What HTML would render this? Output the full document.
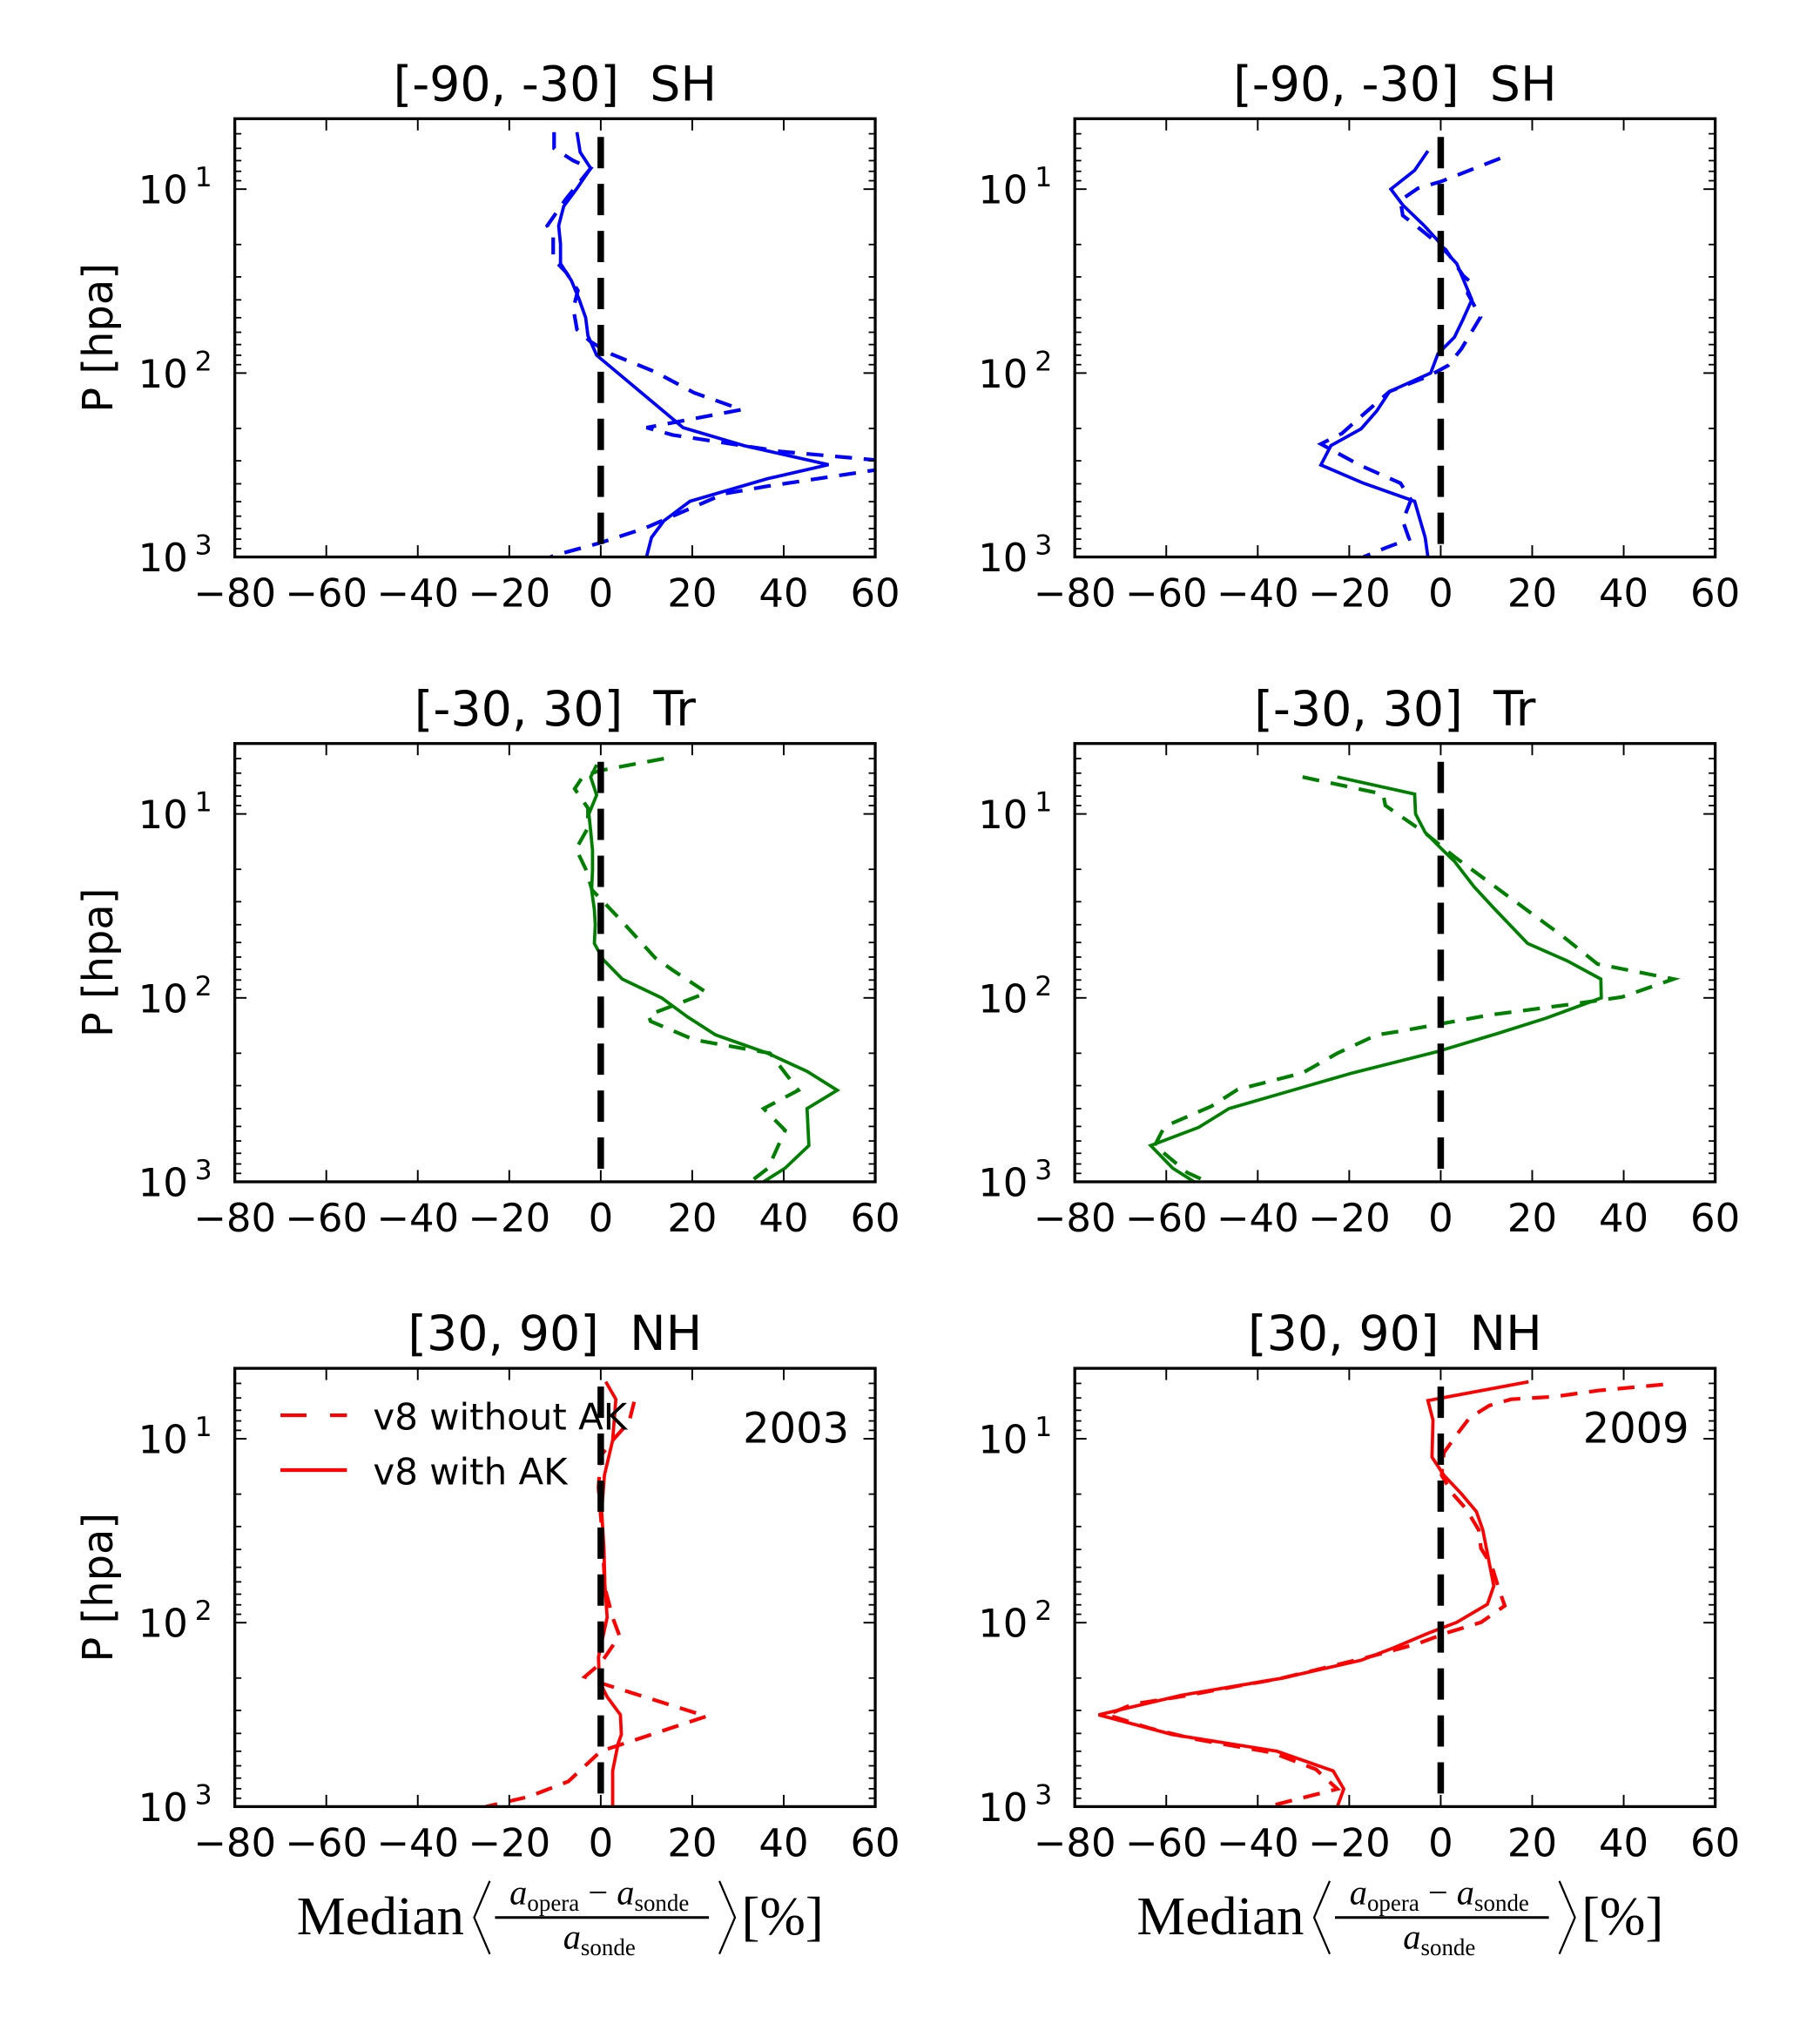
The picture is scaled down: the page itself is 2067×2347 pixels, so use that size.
<!DOCTYPE html>
<html><head><meta charset="utf-8"><style>
html,body{margin:0;padding:0;background:#fff;}
svg{display:block;}
</style></head><body>
<svg id="fig" xmlns="http://www.w3.org/2000/svg" width="2067" height="2347" viewBox="0 0 1380 1567" font-family="'DejaVu Sans', 'Liberation Sans', sans-serif">
<rect width="1380" height="1567" fill="#fff"/>
</svg>
<script>
// ---- data (x = median relative difference %, p = pressure hPa) ----
const xTicks = [-80,-60,-40,-20,0,20,40,60];
const xTickLabels = ["\u221280","\u221260","\u221240","\u221220","0","20","40","60"];
const yTicks = [10,100,1000];
const yTickExp = ["1","2","3"];

const shSolidP2003 = [4.9,6.3,7.7,9.9,12.4,15.8,19.9,25.4,31.5,39.9,50,62.7,67.6,80,198,248,315,375,498,636,783,1000];
const shSolidX2003 = [-5.2,-4.5,-2.2,-5.2,-8.1,-9.2,-8.8,-8.8,-6.4,-4.7,-3.3,-2.8,-2.2,-0.9,18,31.3,49.8,36.5,19.5,13.8,11.1,10];
const shDashP2003 = [4.9,6,7,7.7,11.3,15.8,17.8,23.9,28.3,35.6,44.5,58,67.6,79,98.6,128,158,198,217,267,300,331,412,453,700,843,963,1000];
const shDashX2003 = [-10.2,-10.2,-6,-2.2,-7.6,-11.7,-10.4,-10.4,-7.6,-5,-6,-5.2,-2.2,2.4,11.9,20.4,30.8,10,15.7,39.4,62,62,36.5,27,9.5,-0.5,-9,-11];

const shSolidP2009 = [6.2,7.9,10,12.2,15.8,19.1,21.4,25.4,39.9,50.9,63.8,78.5,100,126,161,201,248,316,397,498,783,1000];
const shSolidX2009 = [-2.8,-5.7,-10.9,-8.3,-3.6,-0.6,0.7,3.5,6.8,4.9,3.0,-0.6,-2.2,-11.2,-14,-17.4,-24,-26.2,-16.9,-5.7,-3.4,-2.8];
const shDashP2009 = [6.8,9.1,9.9,11.5,13.9,16.4,21.4,29.5,31.8,37,49.6,74,91,104,126,180,213,243,316,397,489,636,798,893,1000];
const shDashX2009 = [13,0,-5,-8.8,-8.3,-4.6,1.1,4.9,6.4,5.9,8.7,4.5,1.6,-2.7,-11.2,-18.3,-21.6,-26.2,-17.8,-8.8,-6.5,-8.3,-6.9,-12.1,-16.9];

const trSolidP2003 = [5.4,6.3,7.9,10,12.4,15.8,20.2,25.9,33.1,40,50.6,61.8,79,100,127,159,200,251,318,400,635,843,1000];
const trSolidX2003 = [-0.9,-2.2,-0.9,-2.6,-2.2,-1.8,-1.8,-2.0,-1.4,-1.2,-1.4,0.5,4.7,13.3,19,25.1,36.5,45.1,51.7,45.1,45.5,40.3,35.6];
const trDashP2003 = [5.0,5.8,6.2,7.3,9.3,11.9,15.5,19.9,25.9,38.5,60.6,70.6,93.8,124,134,169,200,318,400,525,843,1000];
const trDashX2003 = [13.8,0,-3.8,-5.7,-2.8,-2.8,-5.4,-3.3,-1.9,4.7,11.9,15.7,23.2,10.4,10.9,20.4,37,43.2,35.6,40.3,36.6,32.7];

const trSolidP2009 = [6.3,7.8,10,12.6,15.5,18.1,24.9,32.5,50.6,63,79,100,129,156,196,256,321,400,506,635,843,1000];
const trSolidX2009 = [-22.6,-5.7,-5.5,-3.4,0.2,3.0,7.3,11.6,19,27.7,35,35.1,23,12.5,-0.8,-19.3,-33,-46.3,-52.9,-63.4,-58.6,-53.9];
const trDashP2009 = [6.3,7.8,9,12.6,17.1,33.1,46.5,65.5,79,99,107,124,151,159,200,256,315,388,497,536,635,892,1000];
const trDashX2009 = [-30.2,-12.6,-12.1,-3.6,3.0,18.7,26.8,34.3,50.9,39.6,30.1,10.6,-8.3,-14,-22.6,-30.2,-44.4,-50.1,-60.1,-61,-62.5,-55.4,-51];

const nhSolidP2003 = [4.9,6.1,10.2,15.8,24.9,39.4,62,93.7,154,209,253,317,406,454,640,1000];
const nhSolidX2003 = [1.1,3.3,2.6,0.8,0.2,0.7,0.9,1.4,-0.5,-0.3,1.4,4.3,4.5,3.8,2.6,2.6];
const nhDashP2003 = [6.3,8.1,10.2,12.4,18.4,32.5,64.4,93.7,118,166,197,213,323,500,730,883,1000];
const nhDashX2003 = [7.3,6.2,2.6,0,-0.5,0.3,0.9,2.6,4.1,0,-3.5,0,23.1,0,-7.1,-15.7,-25.1];

const nhSolidP2009 = [4.9,6.2,7.9,12.6,15.8,19.9,24.9,31.3,63.2,79.4,99.6,114,137,160,201,248,317,406,500,640,802,1000];
const nhSolidX2009 = [19.2,-2.8,-1.7,-1.9,0.7,4.5,7.8,9.2,11.6,10.2,3.5,-2.7,-10.3,-17.4,-35,-56.7,-74.8,-58.6,-35.8,-23.5,-21.2,-22.6];
const nhDashP2009 = [5.07,5.47,5.9,6.1,6.6,7.7,9.5,11.9,15.8,19.9,24,31.3,39.4,49.4,64.4,80.9,99.6,114,130,154,176,201,221,252,277,317,376,429,509,627,802,1000];
const nhDashX2009 = [48.6,34.4,24.9,15.4,10.6,6.3,3.5,0.7,0.2,2.6,5.5,8.3,8.8,11.2,12.6,14.0,8.8,1.1,-5,-15.9,-25.4,-35,-44.4,-56.7,-67.2,-72.9,-63.4,-53.9,-36.8,-27.3,-22.6,-37.8];

// ---- layout ----
const NS = "http://www.w3.org/2000/svg";
const svg = document.getElementById('fig');
const X0 = [180, 824], W = 491;
const Y0 = [91, 570, 1049], H = 336;
const LOGTOP = 3 - H/141;
function mk(tag, attrs, parent){ const e=document.createElementNS(NS,tag); for(const k in attrs) e.setAttribute(k,attrs[k]); (parent||svg).appendChild(e); return e; }

const panels = [
 {r:0,c:0,title:"[-90, -30]\u00a0\u00a0SH",color:"#0000ff",sp:shSolidP2003,sx:shSolidX2003,dp:shDashP2003,dx:shDashX2003,name:"sh-2003"},
 {r:0,c:1,title:"[-90, -30]\u00a0\u00a0SH",color:"#0000ff",sp:shSolidP2009,sx:shSolidX2009,dp:shDashP2009,dx:shDashX2009,name:"sh-2009"},
 {r:1,c:0,title:"[-30, 30]\u00a0\u00a0Tr",color:"#008000",sp:trSolidP2003,sx:trSolidX2003,dp:trDashP2003,dx:trDashX2003,name:"tr-2003"},
 {r:1,c:1,title:"[-30, 30]\u00a0\u00a0Tr",color:"#008000",sp:trSolidP2009,sx:trSolidX2009,dp:trDashP2009,dx:trDashX2009,name:"tr-2009"},
 {r:2,c:0,title:"[30, 90]\u00a0\u00a0NH",color:"#ff0000",sp:nhSolidP2003,sx:nhSolidX2003,dp:nhDashP2003,dx:nhDashX2003,name:"nh-2003"},
 {r:2,c:1,title:"[30, 90]\u00a0\u00a0NH",color:"#ff0000",sp:nhSolidP2009,sx:nhSolidX2009,dp:nhDashP2009,dx:nhDashX2009,name:"nh-2009"}
];

panels.forEach((pn,i)=>{
  const x0=X0[pn.c], y0=Y0[pn.r];
  const xs = v => x0 + (v+80)/140*W;
  const ys = p => y0 + (Math.log10(p)-LOGTOP)/(3-LOGTOP)*H;
  const g = mk('g',{});
  
  
  const cp = mk('clipPath',{id:'cp'+i}, g);
  mk('rect',{x:x0,y:y0,width:W,height:H},cp);
  const t = mk('text',{x:x0+W/2,y:y0-14,'text-anchor':'middle','font-size':37},g);
  t.textContent = pn.title;
  
  
  // series
  const dg = mk('g',{'clip-path':'url(#cp'+i+')'},g);
  const dash = mk('polyline',{points:pn.dp.map((p,k)=>xs(pn.dx[k])+','+ys(p)).join(' '),fill:'none',stroke:pn.color,'stroke-width':2.8,'stroke-dasharray':'13,9'},dg);
  
  
  const sol = mk('polyline',{points:pn.sp.map((p,k)=>xs(pn.sx[k])+','+ys(p)).join(' '),fill:'none',stroke:pn.color,'stroke-width':2.5},dg);
  
  
  const zl = mk('line',{x1:xs(0),x2:xs(0),y1:y0+14,y2:y0+H,stroke:'#000','stroke-width':5,'stroke-dasharray':'24,12'},dg);
  
  
  // ticks
  xTicks.forEach((v,k)=>{
    const x=xs(v);
    mk('line',{x1:x,x2:x,y1:y0+H,y2:y0+H-9,stroke:'#000','stroke-width':1.3},g);
    mk('line',{x1:x,x2:x,y1:y0,y2:y0+9,stroke:'#000','stroke-width':1.3},g);
    const tl = mk('text',{x:x,y:y0+H+38,'text-anchor':'middle','font-size':30},g);
    tl.textContent = xTickLabels[k];
    
    
  });
  yTicks.forEach((p,k)=>{
    const y=ys(p);
    mk('line',{x1:x0,x2:x0+9,y1:y,y2:y,stroke:'#000','stroke-width':1.3},g);
    mk('line',{x1:x0+W,x2:x0+W-9,y1:y,y2:y,stroke:'#000','stroke-width':1.3},g);
    const tl = mk('text',{x:x0-55,y:y+11,'text-anchor':'middle','font-size':30},g);
    tl.textContent = '10';
    
    
    const ex = mk('text',{x:x0-24,y:y-2,'text-anchor':'middle','font-size':21},g);
    ex.textContent = yTickExp[k];
  });
  [1,10,100].forEach(d=>{ for(let m=2;m<=9;m++){ const p=d*m; if(Math.log10(p)<LOGTOP) continue; const y=ys(p);
    mk('line',{x1:x0,x2:x0+5,y1:y,y2:y,stroke:'#000','stroke-width':1.2},g);
    mk('line',{x1:x0+W,x2:x0+W-5,y1:y,y2:y,stroke:'#000','stroke-width':1.2},g);} });
  const fr = mk('rect',{x:x0,y:y0,width:W,height:H,fill:'none',stroke:'#000','stroke-width':2.2},g);
  
  
  if(pn.c===0){
    const yl = mk('text',{x:0,y:0,'text-anchor':'middle','font-size':32,transform:'translate(86,'+(y0+H/2)+') rotate(-90)'},g);
    yl.textContent='P [hpa]';
    
    
  }
  if(pn.r===2){
    const yr = mk('text',{x:x0+W-20,y:y0+57,'text-anchor':'end','font-size':32},g);
    yr.textContent = pn.c===0?'2003':'2009';
    
    
    // x label
    const cx = x0+W/2;
    const xl = mk('g',{'font-family':"'Liberation Serif', serif"},g);
    
    
    const m = mk('text',{x:cx-198,y:1483,'font-size':42},xl); m.textContent='Median';
    mk('polyline',{points:(cx-50)+',1442 '+(cx-62)+',1470 '+(cx-50)+',1498',fill:'none',stroke:'#000','stroke-width':1.5},xl);
    const num = mk('text',{x:cx+34,y:1460,'text-anchor':'middle','font-size':27},xl);
    num.innerHTML = '<tspan font-style="italic">a</tspan><tspan font-size="18" dy="5">opera</tspan><tspan dy="-5"> \u2212 </tspan><tspan font-style="italic">a</tspan><tspan font-size="18" dy="5">sonde</tspan>';
    mk('line',{x1:cx-46,x2:cx+118,y1:1470,y2:1470,stroke:'#000','stroke-width':2},xl);
    const den = mk('text',{x:cx+34,y:1494,'text-anchor':'middle','font-size':27},xl);
    den.innerHTML = '<tspan font-style="italic">a</tspan><tspan font-size="18" dy="5">sonde</tspan>';
    mk('polyline',{points:(cx+126)+',1442 '+(cx+138)+',1470 '+(cx+126)+',1498',fill:'none',stroke:'#000','stroke-width':1.5},xl);
    const pc = mk('text',{x:cx+143,y:1483,'font-size':42},xl); pc.textContent='[%]';
  }
  if(pn.r===2 && pn.c===0){
    const lg = mk('g',{},g);
    
    
    mk('line',{x1:215,x2:266,y1:1085,y2:1085,stroke:'#ff0000','stroke-width':2.8,'stroke-dasharray':'20,18,13'},lg);
    const l1 = mk('text',{x:286,y:1096,'font-size':28},lg); l1.textContent='v8 without AK';
    
    
    mk('line',{x1:215,x2:266,y1:1127,y2:1127,stroke:'#ff0000','stroke-width':2.8},lg);
    const l2 = mk('text',{x:286,y:1138,'font-size':28},lg); l2.textContent='v8 with AK';
    
    
  }
});
</script>
</body></html>
